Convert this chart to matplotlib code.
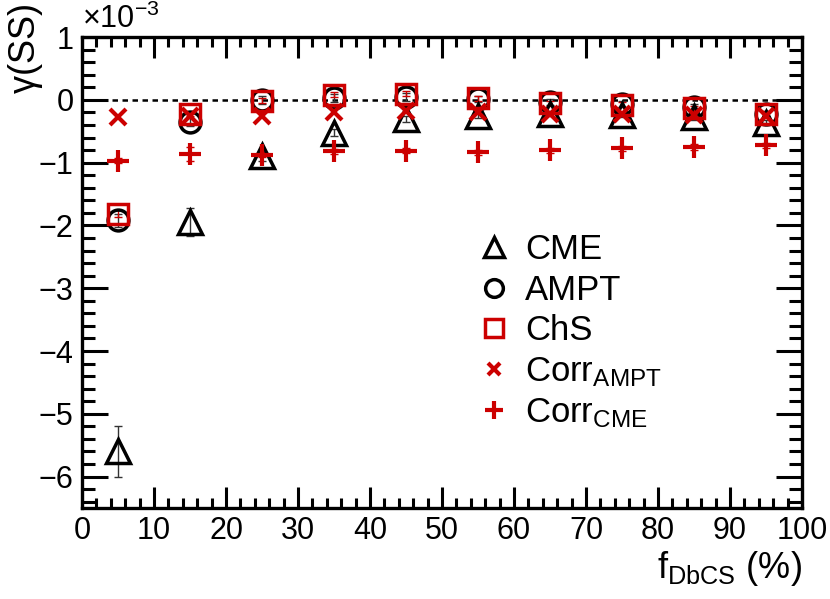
import numpy as np
import matplotlib
matplotlib.use("Agg")
import matplotlib.pyplot as plt
from matplotlib.ticker import MultipleLocator

plt.rcParams['font.family'] = ['Liberation Sans', 'DejaVu Sans']
plt.rcParams['mathtext.fontset'] = 'custom'
plt.rcParams['mathtext.rm'] = 'Liberation Sans'
plt.rcParams['mathtext.it'] = 'Liberation Sans'

red = '#cc0000'

# f_DbCS (%) bins
f = [5, 15, 25, 35, 45, 55, 65, 75, 85, 95]

# gamma(SS) in units of 1e-3
cme = [-5.60, -1.94, -0.90, -0.52, -0.30, -0.25, -0.22, -0.24, -0.28, -0.36]
cme_err = [0.40, 0.22, 0.07, 0.06, 0.05, 0.04, 0.04, 0.04, 0.04, 0.04]
ampt = [-1.92, -0.35, 0.00, 0.03, 0.05, 0.02, -0.03, -0.07, -0.12, -0.22]
ampt_err = [0.10, 0.06, 0.06, 0.06, 0.06, 0.05, 0.05, 0.05, 0.05, 0.05]
chs = [-1.81, -0.22, -0.01, 0.08, 0.10, 0.03, -0.05, -0.08, -0.13, -0.22]
chs_err = [0.06, 0.04, 0.04, 0.04, 0.04, 0.04, 0.04, 0.04, 0.04, 0.04]
corr_ampt = [-0.27, -0.26, -0.25, -0.20, -0.17, -0.19, -0.22, -0.22, -0.24, -0.25]
corr_cme = [-0.97, -0.86, -0.87, -0.82, -0.81, -0.83, -0.80, -0.77, -0.75, -0.72]
corr_cme_err = [0.04, 0.11, 0.04, 0.04, 0.04, 0.04, 0.04, 0.04, 0.04, 0.04]

fig = plt.figure(figsize=(8.3, 5.99), dpi=100)
ax = fig.add_axes([0.0988, 0.152, 0.8675, 0.786])

ax.axhline(0, color='black', lw=1.8, ls=(0, (2.2, 1.8)), zorder=1)

ebkw = dict(fmt='none', elinewidth=1.0, capsize=3, capthick=1.0, zorder=2)
ax.errorbar(f, cme, yerr=cme_err, ecolor='#333333', **ebkw)
ax.errorbar(f, ampt, yerr=ampt_err, ecolor='#333333', **ebkw)
ax.errorbar(f, chs, yerr=chs_err, ecolor=red, **ebkw)
ax.errorbar(f, corr_cme, yerr=corr_cme_err, ecolor=red, **ebkw)

ax.plot(f, cme, ls='none', marker='^', ms=17, mfc='none', mec='black', mew=2.5, label='CME', zorder=3)
ax.plot(f, ampt, ls='none', marker='o', ms=15, mfc='none', mec='black', mew=2.5, label='AMPT', zorder=3)
ax.plot(f, chs, ls='none', marker='s', ms=15, mfc='none', mec=red, mew=2.5, label='ChS', zorder=4)
ax.plot(f, corr_ampt, ls='none', marker='x', ms=11, mec=red, mew=3, label=r'Corr$_{\mathrm{AMPT}}$', zorder=4)
ax.plot(f, corr_cme, ls='none', marker='+', ms=16, mec=red, mew=3, label=r'Corr$_{\mathrm{CME}}$', zorder=4)

ax.set_xlim(0, 100)
ax.set_ylim(-6.5, 1)
ax.xaxis.set_major_locator(MultipleLocator(10))
ax.xaxis.set_minor_locator(MultipleLocator(2))
ax.yaxis.set_major_locator(MultipleLocator(1))
ax.yaxis.set_minor_locator(MultipleLocator(0.2))
ax.tick_params(which='both', direction='in', top=True, right=True, width=2.2, labelsize=22)
ax.tick_params(axis='x', which='major', length=15, pad=6)
ax.tick_params(axis='x', which='minor', length=7.5)
ax.tick_params(axis='y', which='major', length=19, pad=6)
ax.tick_params(axis='y', which='minor', length=9.5)
for s in ax.spines.values():
    s.set_linewidth(2.4)

ax.set_ylabel(r'$\gamma$(SS)', fontsize=26, loc='top')
ax.yaxis.set_label_coords(-0.052, 1.07)
ax.set_xlabel(r'f$_{\mathrm{DbCS}}$ (%)', fontsize=26, loc='right', labelpad=2)
ax.text(0.0, 1.005, r'$\times$10$^{-3}$', transform=ax.transAxes, fontsize=22, ha='left', va='bottom')

ax.legend(loc='upper left', bbox_to_anchor=(0.50, 0.65), frameon=False, fontsize=25,
          markerscale=0.85, handletextpad=0.3, labelspacing=0.22, handlelength=1.2)

fig.savefig('out.png', dpi=100)
